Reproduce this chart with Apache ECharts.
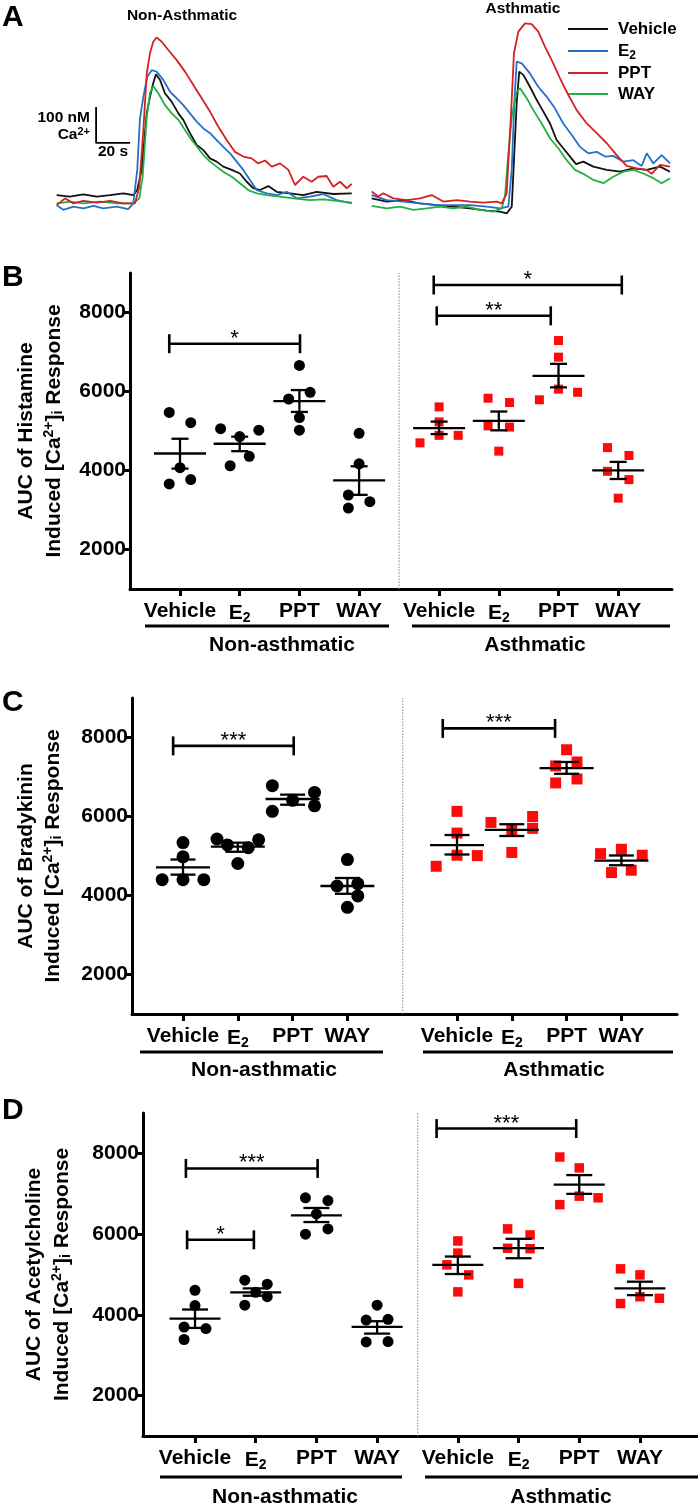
<!DOCTYPE html>
<html>
<head>
<meta charset="utf-8">
<script src="https://cdn.jsdelivr.net/npm/echarts@6/dist/echarts.min.js"></script>
<style>
  html, body { margin: 0; padding: 0; background: #fff; }
  #chart { width: 698px; height: 1511px; }
</style>
</head>
<body>
<div id="chart"></div>
<script>
// ---- Panel A traces: [time (s), Ca2+ (nM)] ----
const naVehicle = [[9.8,97],[17.6,93],[25.5,99],[33.4,93],[41.2,97],[49,102],[54.9,97],[57.2,111],[59.8,167],[62.8,325],[64.7,370],[66.6,408],[68.2,433],[70.6,417],[73.5,380],[77.5,356],[81.4,324],[84.3,306],[88.2,269],[92.2,236],[96.1,222],[100,199],[103.9,190],[107.8,176],[112.8,167],[117.6,157],[121.6,134],[125.5,116],[129.4,111],[134.3,122],[139.2,106],[147.1,102],[154.9,97],[162.8,106],[172.5,100],[183.4,102]];
const naE2 = [[9.8,69],[13.7,56],[19.6,65],[25.5,60],[31.4,67],[37.2,60],[45.1,65],[51.9,58],[54.9,74],[57.2,167],[58.8,310],[60.8,370],[63.1,426],[65.7,444],[68.6,440],[72.5,417],[76.5,384],[80.4,366],[84.3,347],[88.2,324],[92.2,301],[96.1,282],[100,269],[103.9,250],[107.8,231],[111.8,213],[115.7,190],[119.6,167],[123.5,139],[127.5,111],[133.4,102],[139.2,97],[145.1,106],[151,88],[158.8,93],[166.6,100],[174.5,83],[183.4,74]];
const naPPT = [[9.8,69],[14.7,88],[19.6,74],[25.5,81],[33.4,76],[41.2,81],[49,74],[55.9,74],[58.4,120],[60.8,278],[62.8,435],[64.7,491],[66.6,523],[68.6,535],[71.6,523],[75.5,500],[80.4,472],[85.3,440],[90.2,403],[95.1,366],[100,329],[104.9,287],[109.8,250],[114.7,217],[119.6,204],[124.5,199],[128.4,185],[132.4,193],[136.3,176],[141.2,185],[146.1,167],[150,125],[154.9,148],[159.8,134],[163.7,148],[168.6,150],[172.5,120],[176.5,134],[180.4,116],[183.4,128]];
const naWAY = [[9.8,74],[17.6,79],[25.5,74],[35.3,79],[45.1,74],[54.9,74],[58.4,88],[60.4,148],[62.8,315],[64.7,380],[66.6,400],[69.6,380],[73.5,347],[77.5,324],[81.4,306],[85.3,278],[89.2,250],[93.1,227],[96.1,208],[100,190],[103.9,176],[107.8,162],[112.8,148],[117.6,130],[122.5,111],[127.5,102],[133.4,97],[141.2,93],[149,88],[158.8,83],[166.6,85],[174.5,81],[183.4,76]];
const asVehicle = [[195.1,88],[203.9,79],[213.7,83],[223.5,74],[233.4,69],[243.1,65],[252.9,60],[262.8,54],[270.6,51],[274.5,46],[277.5,65],[279,213],[280.4,352],[281.9,440],[284.3,431],[288.2,398],[292.2,361],[296.1,329],[300,296],[303.9,250],[307.8,227],[311.8,204],[315.3,183],[319.6,190],[325.5,176],[333.4,167],[341.2,162],[349,171],[356.9,167],[364.7,176],[370.6,162]];
const asE2 = [[195.1,97],[203.9,83],[213.7,79],[223.5,74],[233.4,69],[243.1,69],[252.9,69],[262.8,65],[270.6,60],[275.5,65],[277.5,167],[279,352],[280.4,468],[283.4,463],[288.2,435],[293.1,398],[298.1,370],[302.9,338],[307.8,296],[312.8,264],[317.6,231],[322.5,213],[327.5,217],[332.4,204],[337.2,206],[343.1,190],[349,194],[353.9,178],[356.9,213],[360.8,185],[365.7,208],[370.6,185]];
const asPPT = [[195.1,107],[199,93],[201.9,102],[207.8,88],[215.7,83],[223.5,88],[230.4,97],[237.2,79],[245.1,83],[252.9,79],[260.8,76],[268.6,79],[271.6,74],[274.5,102],[276.9,306],[278.8,491],[281.4,551],[285.3,574],[289.2,572],[293.1,551],[297.1,509],[301,472],[305.9,421],[310.8,375],[315.7,333],[321.6,296],[327.5,269],[333.4,241],[339.2,208],[345.1,178],[351,171],[356.9,167],[359.8,156],[364.7,181],[370.6,176]];
const asWAY = [[195.1,67],[203.9,60],[211.8,65],[219.6,56],[227.5,60],[235.3,65],[243.1,60],[251,65],[258.8,56],[266.6,51],[271.6,60],[273.5,93],[275.5,213],[277.5,315],[280.4,384],[282.4,394],[286.3,366],[290.2,333],[295.1,296],[300,255],[304.9,227],[309.8,194],[314.7,167],[319.6,156],[325.5,139],[331.4,130],[337.2,148],[343.1,162],[349,167],[354.9,157],[360.8,144],[365.7,130],[370.6,144]];
const scaleOrigin = [33, 242];
const scaleNm = 100;
const scaleSec = 20;

// ---- shared ----
const groupLabels = ['Vehicle', 'E{sub|2}', 'PPT', 'WAY'];
const yTicks = [2000, 4000, 6000, 8000];

// ---- Panel B: histamine ----
const bPos = [1, 2, 3, 4, 5.34, 6.34, 7.34, 8.34];
const bValues = [
  [5470, 5210, 4070, 3660, 3770], [5060, 5020, 4860, 4360, 4120], [6660, 5980, 5810, 5340, 5020], [4940, 4170, 3380, 3210, 3050],
  [5610, 5230, 4890, 4890, 4700], [5830, 5720, 5130, 5100, 4490], [7290, 6870, 6060, 5980, 5790], [4580, 4380, 3980, 3770, 3300]
];
const bJitter = [
  [-0.18, 0.18, 0, -0.18, 0.18], [-0.32, 0.32, 0, 0.16, -0.16], [0, 0.18, -0.18, 0, 0], [0, 0, -0.18, 0.18, -0.18],
  [0, 0, 0, 0.32, -0.32], [-0.18, 0.18, -0.18, 0.18, 0], [0, 0, 0, 0.32, -0.32], [-0.18, 0.18, -0.18, 0.18, 0]
];
const bMean = [4430, 4677, 5756, 3750, 5075, 5254, 6394, 4004];
const bSemLo = [4048, 4489, 5483, 3384, 4922, 5017, 6105, 3785];
const bSemHi = [4804, 4856, 6036, 4107, 5238, 5493, 6700, 4218];
const bBrackets = [[0.82, 3.01, 7210, '*'], [5.25, 8.40, 8696, '*'], [5.30, 7.21, 7916, '**']];
const bDivider = 4.67;

// ---- Panel C: bradykinin ----
const cPos = [1, 2, 3, 4, 6, 7, 8, 9];
const cValues = [
  [5340, 4980, 4400, 4400, 4400], [5430, 5410, 5280, 5210, 4810], [6780, 6610, 6410, 6130, 6270], [4910, 4240, 4300, 3990, 3700],
  [6130, 5580, 5020, 5010, 4740], [5850, 6000, 5700, 5660, 5090], [7690, 7380, 7280, 6950, 6850], [5170, 5060, 5020, 4640, 4580]
];
const cJitter = [
  [0, 0, -0.38, 0, 0.38], [-0.38, 0.38, -0.19, 0.19, 0], [-0.37, 0.4, 0, -0.37, 0.4], [0, -0.19, 0.19, 0.19, 0],
  [0, 0, 0, 0.37, -0.38], [-0.38, 0.38, 0.38, 0, 0], [0, 0.19, -0.2, 0.19, -0.2], [0, -0.38, 0.38, 0.18, -0.18]
];
const cMean = [4714, 5235, 6443, 4240, 5276, 5659, 7226, 4885];
const cSemLo = [4528, 5107, 6298, 4043, 5038, 5506, 7081, 4766];
const cSemHi = [4911, 5337, 6553, 4443, 5531, 5804, 7380, 5013];
const cBrackets = [[0.82, 3.02, 7788, '***'], [5.74, 7.79, 8230, '***']];
const cDivider = 5.01;

// ---- Panel D: acetylcholine ----
const dPos = [1, 2, 3, 4, 5.33, 6.33, 7.33, 8.33];
const dValues = [
  [4610, 4230, 3700, 3660, 3390], [4860, 4760, 4240, 4450, 4560], [6900, 6830, 6500, 6000, 6130], [4240, 3870, 3890, 3330, 3340],
  [5830, 5530, 5240, 4990, 4570], [6130, 5980, 5650, 5640, 4780], [7910, 7640, 6940, 6900, 6730], [5140, 4990, 4450, 4410, 4280]
];
const dJitter = [
  [0, 0, -0.18, 0.18, -0.18], [-0.18, 0.19, -0.18, 0.19, 0], [-0.18, 0.19, 0, -0.18, 0.19], [0, -0.18, 0.18, -0.18, 0.18],
  [0, 0, -0.18, 0.18, 0], [-0.18, 0.19, -0.18, 0.19, 0], [-0.32, 0, 0, 0.31, -0.32], [-0.32, 0, 0, 0.32, -0.32]
];
const dMean = [3909, 4556, 6466, 3702, 5236, 5652, 7228, 4656];
const dSemLo = [3677, 4474, 6299, 3536, 5012, 5403, 6997, 4489];
const dSemHi = [4133, 4656, 6648, 3843, 5445, 5884, 7462, 4822];
const dBrackets = [[0.85, 3.02, 7627, '***'], [0.87, 1.97, 5859, '*'], [4.98, 7.28, 8615, '***']];
const dDivider = 4.67;

const FONT = '"Liberation Sans", Arial, Helvetica, sans-serif';
const chart = echarts.init(document.getElementById('chart'));

const grids = [], xAxes = [], yAxes = [], series = [], graphics = [];

function txt(x, y, text, size, opts = {}) {
  graphics.push({
    type: 'text', x, y, rotation: opts.rotation || 0,
    style: Object.assign({
      text, fontSize: size, fontWeight: 'bold', fontFamily: FONT, fill: '#000',
      align: opts.align || 'center', verticalAlign: 'middle'
    }, opts.style || {})
  });
}
function hline(x1, x2, y, w, color) {
  graphics.push({ type: 'line', shape: { x1, y1: y, x2, y2: y }, style: { stroke: color || '#000', lineWidth: w } });
}

// ---------- Panel A ----------
grids.push({ left: 40, top: 0, width: 637.5, height: 230 });
xAxes.push({ type: 'value', gridIndex: 0, min: 0, max: 375, show: false });
yAxes.push({ type: 'value', gridIndex: 0, min: 0, max: 639, show: false });
const traceColors = { Vehicle: '#111111', E2: '#2372c8', PPT: '#d42222', WAY: '#22b045' };
[[naVehicle, 'Vehicle'], [naE2, 'E2'], [naWAY, 'WAY'], [naPPT, 'PPT'],
 [asVehicle, 'Vehicle'], [asE2, 'E2'], [asWAY, 'WAY'], [asPPT, 'PPT']].forEach(([d, k]) => {
  series.push({
    type: 'line', xAxisIndex: 0, yAxisIndex: 0, data: d, showSymbol: false, silent: true,
    lineStyle: { color: traceColors[k], width: 1.8 }
  });
});
series.push({
  type: 'line', xAxisIndex: 0, yAxisIndex: 0, showSymbol: false, silent: true,
  data: [[scaleOrigin[0], scaleOrigin[1] + scaleNm], scaleOrigin, [scaleOrigin[0] + scaleSec, scaleOrigin[1]]],
  lineStyle: { color: '#000', width: 1.8 }
});
txt(2, 17.5, 'A', 30, { align: 'left' });
txt(182, 16, 'Non-Asthmatic', 15.5);
txt(523, 9, 'Asthmatic', 15.5);
txt(90, 118, '100 nM', 15.5, { align: 'right' });
txt(90, 135, 'Ca{sup|2+}', 15.5, { align: 'right', style: { rich: { sup: { fontSize: 11, fontWeight: 'bold', fontFamily: FONT, verticalAlign: 'top', padding: [0, 0, 6, 0] } } } });
txt(113, 152, '20 s', 15.5);
[['Vehicle', 29, '#111111'], ['E{sub|2}', 51, '#2372c8'], ['PPT', 73, '#d42222'], ['WAY', 94, '#22b045']].forEach(([label, y, col]) => {
  hline(568, 608, y, 2.2, col);
  txt(618, y, label, 17, { align: 'left', style: { rich: { sub: { fontSize: 12, fontWeight: 'bold', fontFamily: FONT, verticalAlign: 'bottom', padding: [9, 0, 0, 0] } } } });
});

// ---------- dot-plot panels ----------
function dotPanel(cfg) {
  const gi = grids.length;
  grids.push({ left: cfg.left, top: cfg.top, width: cfg.width, height: cfg.height });
  const axisLine = { lineStyle: { color: '#000', width: 3 } };
  xAxes.push({
    type: 'value', gridIndex: gi, min: cfg.xMin, max: cfg.xMax,
    splitLine: { show: false }, axisLine: Object.assign({ onZero: false }, axisLine),
    axisTick: { customValues: cfg.pos, length: 7, lineStyle: { color: '#000', width: 3 } },
    axisLabel: {
      customValues: cfg.pos, margin: 12, color: '#000', fontSize: 21, fontWeight: 'bold', fontFamily: FONT,
      formatter: v => {
        const i = cfg.pos.findIndex(p => Math.abs(p - v) < 1e-6);
        return i < 0 ? '' : groupLabels[i % 4];
      },
      rich: { sub: { fontSize: 14, fontWeight: 'bold', fontFamily: FONT, color: '#000', verticalAlign: 'bottom', padding: [10, 0, 0, 0] } }
    }
  });
  yAxes.push({
    type: 'value', gridIndex: gi, min: 1000, max: 9000,
    splitLine: { show: false }, axisLine: Object.assign({ show: true }, axisLine),
    axisTick: { customValues: yTicks, length: 7, lineStyle: { color: '#000', width: 3 } },
    axisLabel: {
      customValues: yTicks, margin: 4, color: '#000', fontSize: 21, fontWeight: 'bold', fontFamily: FONT,
      formatter: v => String(v)
    }
  });

  // divider
  series.push({
    type: 'line', xAxisIndex: gi, yAxisIndex: gi, showSymbol: false, silent: true,
    data: [[cfg.divider, 1000], [cfg.divider, 9000]],
    lineStyle: { color: '#888', width: 1, type: [1.5, 1.5] }
  });

  const pts = (from, to) => {
    const out = [];
    for (let g = from; g < to; g++) cfg.values[g].forEach((v, k) => out.push([cfg.pos[g] + cfg.jitter[g][k], v]));
    return out;
  };
  series.push({
    type: 'scatter', xAxisIndex: gi, yAxisIndex: gi, data: pts(0, 4), symbol: 'circle',
    symbolSize: cfg.dot, itemStyle: { color: '#000', opacity: 1 }, silent: true
  });
  series.push({
    type: 'scatter', xAxisIndex: gi, yAxisIndex: gi, data: pts(4, 8), symbol: 'rect',
    symbolSize: cfg.sq, itemStyle: { color: '#ff0a0a', opacity: 1 }, silent: true
  });

  // mean +/- SEM
  series.push({
    type: 'custom', xAxisIndex: gi, yAxisIndex: gi, silent: true, z: 5,
    data: cfg.pos.map((p, g) => [p, cfg.mean[g], cfg.lo[g], cfg.hi[g]]),
    renderItem: (params, api) => {
      const m = api.coord([api.value(0), api.value(1)]);
      const lo = api.coord([api.value(0), api.value(2)]);
      const hi = api.coord([api.value(0), api.value(3)]);
      const st = { stroke: '#000', lineWidth: 2.3 };
      const hw = cfg.meanHalf, cw = cfg.capHalf;
      return {
        type: 'group', children: [
          { type: 'line', shape: { x1: m[0] - hw, y1: m[1], x2: m[0] + hw, y2: m[1] }, style: st },
          { type: 'line', shape: { x1: lo[0], y1: lo[1], x2: hi[0], y2: hi[1] }, style: st },
          { type: 'line', shape: { x1: lo[0] - cw, y1: lo[1], x2: lo[0] + cw, y2: lo[1] }, style: st },
          { type: 'line', shape: { x1: hi[0] - cw, y1: hi[1], x2: hi[0] + cw, y2: hi[1] }, style: st }
        ]
      };
    }
  });

  // significance brackets
  series.push({
    type: 'custom', xAxisIndex: gi, yAxisIndex: gi, silent: true, z: 5,
    data: cfg.brackets.map(b => [b[0], b[1], b[2]]),
    renderItem: (params, api) => {
      const a = api.coord([api.value(0), api.value(2)]);
      const b = api.coord([api.value(1), api.value(2)]);
      const st = { stroke: '#000', lineWidth: 2.6 };
      return {
        type: 'group', children: [
          { type: 'line', shape: { x1: a[0], y1: a[1], x2: b[0], y2: b[1] }, style: st },
          { type: 'line', shape: { x1: a[0], y1: a[1] - 9.5, x2: a[0], y2: a[1] + 9.5 }, style: st },
          { type: 'line', shape: { x1: b[0], y1: b[1] - 9.5, x2: b[0], y2: b[1] + 9.5 }, style: st },
          {
            type: 'text', x: (a[0] + b[0]) / 2, y: a[1] - 5,
            style: { text: cfg.brackets[params.dataIndex][3], fontSize: 22, fontFamily: FONT, fill: '#000', align: 'center', verticalAlign: 'middle' }
          }
        ]
      };
    }
  });

  // labels outside the grid
  txt(2, cfg.letterY, cfg.letter, 30, { align: 'left' });
  const cy = cfg.top + cfg.height / 2;
  txt(cfg.nameX[0], cy, cfg.name, 21, { rotation: Math.PI / 2 });
  txt(cfg.nameX[1], cy, 'Induced [Ca{sup|2+}]{sub|i} Response', 21, {
    rotation: Math.PI / 2,
    style: {
      rich: {
        sup: { fontSize: 14, fontWeight: 'bold', fontFamily: FONT, verticalAlign: 'top', padding: [0, 0, 9, 0] },
        sub: { fontSize: 14, fontWeight: 'bold', fontFamily: FONT, verticalAlign: 'bottom', padding: [9, 0, 0, 0] }
      }
    }
  });
  hline(cfg.under[0][0], cfg.under[0][1], cfg.underY, 3);
  hline(cfg.under[1][0], cfg.under[1][1], cfg.underY, 3);
  txt(cfg.groupX[0], cfg.groupY, 'Non-asthmatic', 21);
  txt(cfg.groupX[1], cfg.groupY, 'Asthmatic', 21);
}

dotPanel({
  letter: 'B', letterY: 277.5, name: 'AUC of Histamine', nameX: [26, 54],
  left: 130, top: 273, width: 542, height: 316, xMin: 0.1625, xMax: 9.241,
  pos: bPos, values: bValues, jitter: bJitter, mean: bMean, lo: bSemLo, hi: bSemHi,
  brackets: bBrackets, divider: bDivider, dot: 11, sq: 9, meanHalf: 26, capHalf: 8.5,
  under: [[145, 389], [412, 670]], underY: 626, groupX: [282, 535], groupY: 645
});
dotPanel({
  letter: 'C', letterY: 702.5, name: 'AUC of Bradykinin', nameX: [26, 53],
  left: 132, top: 698, width: 545, height: 316, xMin: 0.0693, xMax: 10.0146,
  pos: cPos, values: cValues, jitter: cJitter, mean: cMean, lo: cSemLo, hi: cSemHi,
  brackets: cBrackets, divider: cDivider, dot: 13, sq: 11, meanHalf: 27, capHalf: 12.5,
  under: [[140, 383], [423, 673]], underY: 1052, groupX: [264, 554], groupY: 1070
});
dotPanel({
  letter: 'D', letterY: 1111, name: 'AUC of Acetylcholine', nameX: [34, 62],
  left: 143, top: 1113, width: 554, height: 323, xMin: 0.1433, xMax: 9.270,
  pos: dPos, values: dValues, jitter: dJitter, mean: dMean, lo: dSemLo, hi: dSemHi,
  brackets: dBrackets, divider: dDivider, dot: 11, sq: 9.5, meanHalf: 25.5, capHalf: 13,
  under: [[160, 402], [425, 698]], underY: 1477, groupX: [285, 561], groupY: 1497
});

chart.setOption({
  animation: false,
  backgroundColor: '#fff',
  grid: grids, xAxis: xAxes, yAxis: yAxes, series,
  graphic: graphics
});
</script>
</body>
</html>
